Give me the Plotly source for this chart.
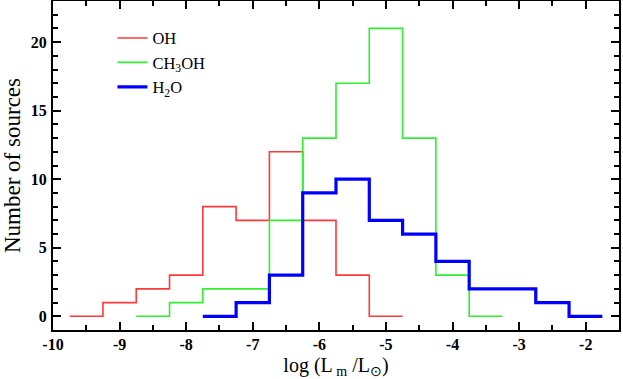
import plotly.graph_objects as go

# Bin centres (log L_m/L_sun) and counts per 0.5-dex bin
oh_centers = [-9.5, -9.0, -8.5, -8.0, -7.5, -7.0, -6.5, -6.0, -5.5, -5.0]
oh_counts = [0, 1, 2, 3, 8, 7, 12, 7, 3, 0]

ch3oh_centers = [-8.5, -8.0, -7.5, -7.0, -6.5, -6.0, -5.5, -5.0, -4.5, -4.0, -3.5]
ch3oh_counts = [0, 1, 2, 2, 7, 13, 17, 21, 13, 3, 0]

h2o_centers = [-7.5, -7.0, -6.5, -6.0, -5.5, -5.0, -4.5, -4.0, -3.5, -3.0, -2.5, -2.0]
h2o_counts = [0, 1, 3, 9, 10, 7, 6, 4, 2, 2, 1, 0]

bin_width = 0.5

x_ticks = [-10, -9, -8, -7, -6, -5, -4, -3, -2]
y_ticks = [0, 5, 10, 15, 20]


def step_xy(centers, counts):
    xs = [c - bin_width / 2 for c in centers] + [centers[-1] + bin_width / 2]
    ys = list(counts) + [counts[-1]]
    return xs, ys


fig = go.Figure()
series = [
    ("OH", oh_centers, oh_counts, "#ff3838", 1.6),
    ("CH<sub>3</sub>OH", ch3oh_centers, ch3oh_counts, "#2ef02e", 1.6),
    ("H<sub>2</sub>O", h2o_centers, h2o_counts, "#0000ff", 3.2),
]
for name, c, v, col, w in series:
    xs, ys = step_xy(c, v)
    fig.add_trace(go.Scatter(x=xs, y=ys, mode="lines", name=name,
                             line=dict(color=col, width=w, shape="hv")))

serif = "Liberation Serif, Times New Roman, serif"
axis_common = dict(
    showline=True, linecolor="black", linewidth=2, mirror="allticks",
    ticks="inside", tickcolor="black", tickwidth=2,
    showgrid=False, zeroline=False, automargin=False,
    tickfont=dict(family=serif, size=16, color="black", weight="bold"),
)

fig.update_xaxes(
    range=[-10, -1.5], tickvals=x_ticks, ticktext=[str(t) for t in x_ticks],
    ticklen=8, ticklabelstandoff=-1,
    minor=dict(ticks="inside", dtick=0.5, tick0=-10, ticklen=5, tickwidth=2, tickcolor="black"),
    title=dict(text="log (L<sub> m</sub> /L<sub>⊙</sub>)", font=dict(family=serif, size=20, color="black")),
    **axis_common,
)
fig.update_yaxes(
    range=[-1, 23], tickvals=y_ticks, ticklen=8, ticklabelstandoff=1,
    minor=dict(ticks="inside", dtick=1, tick0=0, ticklen=5, tickwidth=2, tickcolor="black"),
    title=dict(text="Number of sources", font=dict(family=serif, size=23, color="black")),
    **axis_common,
)

fig.update_layout(
    width=623, height=379,
    margin=dict(l=53, r=4, t=1, b=49),
    plot_bgcolor="white", paper_bgcolor="white",
    legend=dict(x=0.105, y=0.94, xanchor="left", yanchor="top",
                bgcolor="rgba(0,0,0,0)", borderwidth=0,
                font=dict(family=serif, size=16.5, color="black"),
                tracegroupgap=0, itemwidth=30),
)

fig.write_html("out.html", config={"displayModeBar": False},
               post_script="document.body.style.margin='0';document.body.style.padding='0';")
